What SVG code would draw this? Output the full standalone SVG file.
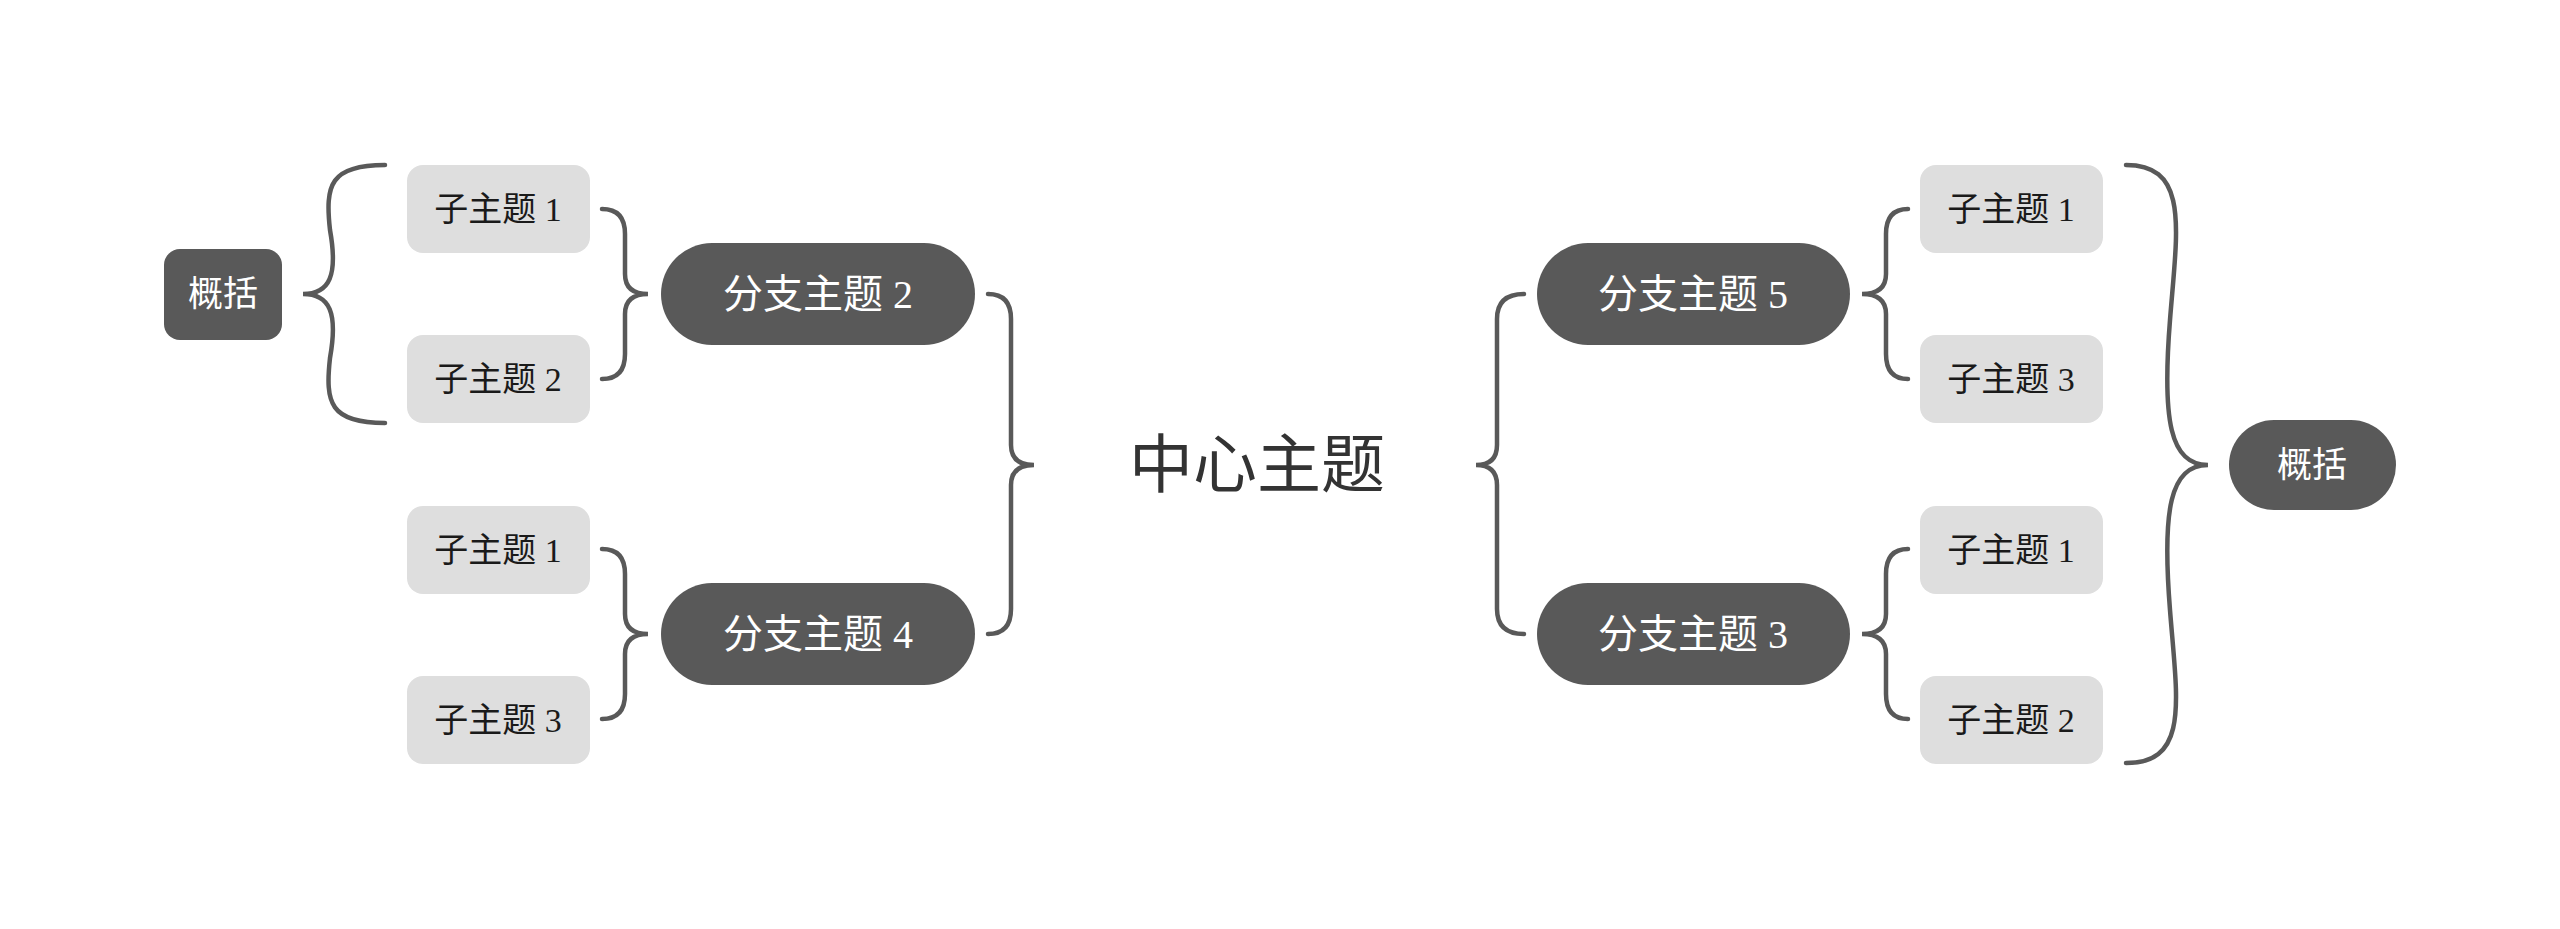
<svg xmlns="http://www.w3.org/2000/svg" width="2560" height="929" viewBox="0 0 2560 929">
<style>
.sub{fill:#dedede}
.br{fill:#595959}
.t{font-family:"Liberation Serif","Noto Sans CJK SC",sans-serif;text-anchor:middle;dominant-baseline:central}
.st{font-size:34px;fill:#1a1a1a}
.bt{font-size:40px;fill:#fff}
.ct{font-size:64px;fill:#333}
.gt{font-size:35px;fill:#fff}
.c{fill:none;stroke:#595959;stroke-width:4.5;stroke-linecap:round}
</style>
<rect width="2560" height="929" fill="#fff"/>
<g id="connectors">
<path class="c" d="M385,165 C330,165 325,185 330,230 C338,275 330,294 303,294 C330,294 338,313 330,358 C325,403 330,423 385,423"/>
<path class="c" d="M602,209 Q625,209 625,234 L625,274 Q625,294 648,294 Q625,294 625,314 L625,354 Q625,379 602,379"/>
<path class="c" d="M602,549 Q625,549 625,574 L625,614 Q625,634 648,634 Q625,634 625,654 L625,694 Q625,719 602,719"/>
<path class="c" d="M988,294 Q1011,294 1011,319 L1011,445 Q1011,465 1034,465 Q1011,465 1011,485 L1011,609 Q1011,634 988,634"/>
<path class="c" d="M1524,294 Q1497,294 1497,319 L1497,445 Q1497,465 1476,465 Q1497,465 1497,485 L1497,609 Q1497,634 1524,634"/>
<path class="c" d="M1908,209 Q1886,209 1886,234 L1886,274 Q1886,294 1862,294 Q1886,294 1886,314 L1886,354 Q1886,379 1908,379"/>
<path class="c" d="M1908,549 Q1886,549 1886,574 L1886,614 Q1886,634 1862,634 Q1886,634 1886,654 L1886,694 Q1886,719 1908,719"/>
<path class="c" d="M2126,165 C2190,165 2177,230 2170,320 C2162,420 2170,465 2208,465 C2170,465 2162,510 2170,610 C2177,700 2190,763 2126,763"/>
</g>
<g id="center"><text class="t ct" x="1257" y="465">中心主题</text></g>
<g id="b2"><rect class="br" x="661" y="243" width="314" height="102" rx="51"/><text class="t bt" x="818" y="294">分支主题 2</text></g>
<g id="b4"><rect class="br" x="661" y="583" width="314" height="102" rx="51"/><text class="t bt" x="818" y="634">分支主题 4</text></g>
<g id="b5"><rect class="br" x="1537" y="243" width="313" height="102" rx="51"/><text class="t bt" x="1693" y="294">分支主题 5</text></g>
<g id="b3"><rect class="br" x="1537" y="583" width="313" height="102" rx="51"/><text class="t bt" x="1693" y="634">分支主题 3</text></g>
<g id="l1"><rect class="sub" x="407" y="165" width="183" height="88" rx="16"/><text class="t st" x="498" y="209">子主题 1</text></g>
<g id="l2"><rect class="sub" x="407" y="335" width="183" height="88" rx="16"/><text class="t st" x="498" y="379">子主题 2</text></g>
<g id="l3"><rect class="sub" x="407" y="506" width="183" height="88" rx="16"/><text class="t st" x="498" y="550">子主题 1</text></g>
<g id="l4"><rect class="sub" x="407" y="676" width="183" height="88" rx="16"/><text class="t st" x="498" y="720">子主题 3</text></g>
<g id="r1"><rect class="sub" x="1920" y="165" width="183" height="88" rx="16"/><text class="t st" x="2011" y="209">子主题 1</text></g>
<g id="r2"><rect class="sub" x="1920" y="335" width="183" height="88" rx="16"/><text class="t st" x="2011" y="379">子主题 3</text></g>
<g id="r3"><rect class="sub" x="1920" y="506" width="183" height="88" rx="16"/><text class="t st" x="2011" y="550">子主题 1</text></g>
<g id="r4"><rect class="sub" x="1920" y="676" width="183" height="88" rx="16"/><text class="t st" x="2011" y="720">子主题 2</text></g>
<g id="sumL"><rect class="br" x="164" y="249" width="118" height="91" rx="16"/><text class="t gt" x="223" y="294">概括</text></g>
<g id="sumR"><rect class="br" x="2229" y="420" width="167" height="90" rx="45"/><text class="t gt" x="2312" y="465">概括</text></g>
</svg>
